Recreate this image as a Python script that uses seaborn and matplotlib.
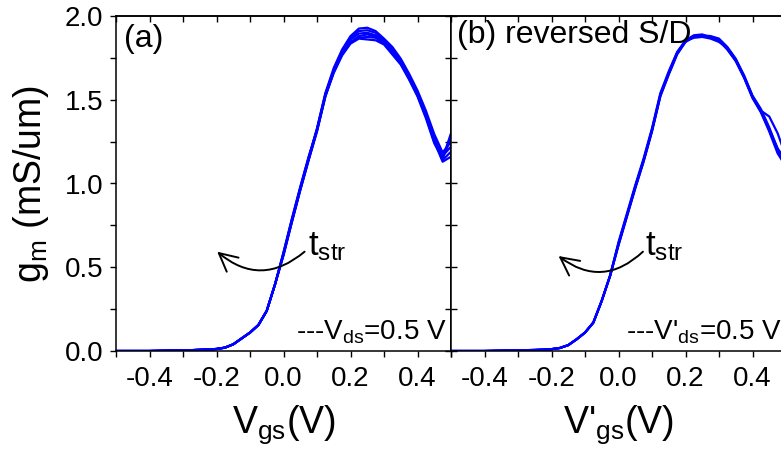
import matplotlib
matplotlib.use("Agg")
import matplotlib.pyplot as plt
from matplotlib.ticker import MultipleLocator, NullFormatter
import pandas as pd
import seaborn as sns

# Gate voltage grid (V): sub-threshold part and above-threshold part
vgs_low = [-0.500, -0.475, -0.450, -0.425, -0.400, -0.375, -0.350, -0.325, -0.300, -0.275,
           -0.250, -0.225, -0.200, -0.175, -0.150, -0.125, -0.100, -0.075, -0.050, -0.025]
vgs_high = [0.000, 0.025, 0.050, 0.075, 0.100, 0.125, 0.150, 0.175, 0.200, 0.225, 0.250,
            0.275, 0.300, 0.325, 0.350, 0.375, 0.400, 0.425, 0.450, 0.475, 0.500]

# (a) forward S/D: common sub-threshold gm and per-stress-time sweeps (mS/um)
gm_a_low = [0.000, 0.000, 0.000, 0.000, 0.000, 0.001, 0.002, 0.003, 0.004, 0.005,
            0.007, 0.009, 0.012, 0.020, 0.040, 0.075, 0.110, 0.155, 0.240, 0.400]
gm_a1 = [0.580, 0.780, 0.970, 1.150, 1.330, 1.540, 1.690, 1.800, 1.880, 1.925, 1.930,
         1.910, 1.865, 1.815, 1.745, 1.655, 1.555, 1.435, 1.295, 1.185, 1.250]
gm_a2 = [0.590, 0.790, 0.980, 1.160, 1.320, 1.530, 1.680, 1.790, 1.870, 1.910, 1.915,
         1.900, 1.855, 1.800, 1.735, 1.645, 1.545, 1.420, 1.280, 1.165, 1.220]
gm_a3 = [0.570, 0.770, 0.960, 1.140, 1.310, 1.520, 1.670, 1.780, 1.860, 1.895, 1.900,
         1.885, 1.850, 1.790, 1.730, 1.640, 1.540, 1.415, 1.270, 1.150, 1.300]
gm_a4 = [0.580, 0.775, 0.965, 1.145, 1.320, 1.525, 1.665, 1.770, 1.845, 1.880, 1.890,
         1.875, 1.840, 1.780, 1.720, 1.630, 1.530, 1.405, 1.260, 1.140, 1.190]
gm_a5 = [0.585, 0.785, 0.975, 1.155, 1.325, 1.535, 1.675, 1.775, 1.840, 1.870, 1.875,
         1.870, 1.835, 1.775, 1.715, 1.625, 1.525, 1.400, 1.250, 1.130, 1.160]
gm_a6 = [0.575, 0.770, 0.960, 1.140, 1.315, 1.520, 1.660, 1.765, 1.835, 1.865, 1.860,
         1.855, 1.830, 1.770, 1.710, 1.620, 1.520, 1.390, 1.240, 1.150, 1.270]

# (b) reversed S/D
gm_b_low = [0.000, 0.000, 0.000, 0.000, 0.000, 0.001, 0.002, 0.003, 0.004, 0.005,
            0.006, 0.008, 0.011, 0.018, 0.035, 0.070, 0.110, 0.170, 0.300, 0.450]
gm_b1 = [0.640, 0.810, 0.980, 1.140, 1.320, 1.530, 1.660, 1.780, 1.850, 1.880, 1.885,
         1.880, 1.865, 1.815, 1.745, 1.645, 1.525, 1.445, 1.335, 1.205, 1.140]
gm_b2 = [0.630, 0.800, 0.970, 1.130, 1.310, 1.520, 1.650, 1.770, 1.845, 1.875, 1.880,
         1.875, 1.855, 1.805, 1.735, 1.635, 1.515, 1.430, 1.320, 1.190, 1.120]
gm_b3 = [0.650, 0.820, 0.990, 1.150, 1.330, 1.540, 1.670, 1.785, 1.855, 1.885, 1.890,
         1.870, 1.850, 1.800, 1.730, 1.630, 1.510, 1.425, 1.310, 1.180, 1.100]
gm_b4 = [0.635, 0.805, 0.975, 1.135, 1.315, 1.525, 1.655, 1.775, 1.850, 1.870, 1.875,
         1.865, 1.845, 1.810, 1.740, 1.640, 1.520, 1.435, 1.400, 1.300, 1.160]
gm_b5 = [0.640, 0.810, 0.980, 1.140, 1.320, 1.530, 1.660, 1.780, 1.845, 1.880, 1.885,
         1.875, 1.860, 1.800, 1.735, 1.635, 1.515, 1.430, 1.325, 1.210, 1.130]

x_ticks = [-0.4, -0.2, 0.0, 0.2, 0.4]
x_tick_labels = ["-0.4", "-0.2", "0.0", "0.2", "0.4"]
y_ticks = [0.0, 0.5, 1.0, 1.5, 2.0]
y_tick_labels = ["0.0", "0.5", "1.0", "1.5", "2.0"]


def sweeps_frame(low, highs):
    rows = []
    for k, high in enumerate(highs):
        for v, g in zip(vgs_low + vgs_high, low + high):
            rows.append({"sweep": k, "vgs": v, "gm": g})
    return pd.DataFrame(rows)


df_a = sweeps_frame(gm_a_low, [gm_a1, gm_a2, gm_a3, gm_a4, gm_a5, gm_a6])
df_b = sweeps_frame(gm_b_low, [gm_b1, gm_b2, gm_b3, gm_b4, gm_b5])

sns.set_theme(style="ticks")
plt.rcParams["font.family"] = ["Liberation Sans", "DejaVu Sans"]
plt.rcParams["mathtext.fontset"] = "custom"
plt.rcParams["mathtext.rm"] = "Liberation Sans"
plt.rcParams["mathtext.it"] = "Liberation Sans"
plt.rcParams["axes.linewidth"] = 1.1
plt.rcParams["text.color"] = "black"
plt.rcParams["axes.labelcolor"] = "black"
plt.rcParams["xtick.color"] = "black"
plt.rcParams["ytick.color"] = "black"

fig = plt.figure(figsize=(7.81, 4.61), dpi=100)
W, H = 781.0, 461.0
ax_a = fig.add_axes([116 / W, 110 / H, 335 / W, 335 / H])
ax_b = fig.add_axes([451 / W, 110 / H, 335 / W, 335 / H])

BLUE = "#0000ff"
TICK_LEN = 4.0
TICK_W = 1.0
TICK_FS = 20

for ax, df in ((ax_a, df_a), (ax_b, df_b)):
    sns.lineplot(data=df, x="vgs", y="gm", units="sweep", estimator=None,
                 color=BLUE, lw=1.6, sort=False, legend=False, ax=ax)
    ax.set_xlim(-0.5, 0.5)
    ax.set_ylim(0.0, 2.0)
    ax.set_xticks(x_ticks)
    ax.set_xticklabels(x_tick_labels)
    ax.xaxis.set_minor_locator(MultipleLocator(0.1))
    ax.set_yticks(y_ticks)
    ax.yaxis.set_minor_locator(MultipleLocator(0.25))
    ax.tick_params(axis="x", which="both", direction="out", length=TICK_LEN,
                   width=TICK_W, labelsize=TICK_FS, color="black",
                   labelcolor="black", pad=7, bottom=True)
    ax.set_ylabel("")
    for s in ax.spines.values():
        s.set_visible(True)
        s.set_linewidth(1.1)
        s.set_color("black")
    # inward mirror ticks on the top edge
    top = ax.secondary_xaxis("top")
    top.set_xticks([-0.5, -0.4, -0.3, -0.2, -0.1, 0.0, 0.1, 0.2, 0.3, 0.4, 0.5])
    top.xaxis.set_major_formatter(NullFormatter())
    top.tick_params(direction="in", length=TICK_LEN, width=TICK_W, color="black")
    top.spines["top"].set_linewidth(1.1)
    top.spines["top"].set_color("black")

# left panel: outward y ticks on the left, inward on the right
ax_a.set_yticklabels(y_tick_labels)
ax_a.tick_params(axis="y", which="both", direction="out", length=TICK_LEN,
                 width=TICK_W, labelsize=TICK_FS, color="black",
                 labelcolor="black", pad=5, left=True)
right = ax_a.secondary_yaxis("right")
right.set_yticks([0.0, 0.25, 0.5, 0.75, 1.0, 1.25, 1.5, 1.75, 2.0])
right.yaxis.set_major_formatter(NullFormatter())
right.tick_params(direction="in", length=TICK_LEN, width=TICK_W, color="black")
right.spines["right"].set_color("black")

# right panel shares the y scale, inward ticks only
ax_b.tick_params(axis="y", which="both", direction="in", length=TICK_LEN,
                 width=TICK_W, color="black", left=True, labelleft=False)

LABEL_FS = 27
ax_a.set_ylabel(r"g$\mathregular{_m}$ (mS/um)", fontsize=LABEL_FS, labelpad=10)
ax_a.set_xlabel(r"V$\mathregular{_{gs}}$(V)", fontsize=LABEL_FS, labelpad=8)
ax_b.set_xlabel(r"V'$\mathregular{_{gs}}$(V)", fontsize=LABEL_FS, labelpad=8)

ax_a.text(-0.476, 1.815, "(a)", fontsize=23, ha="left", va="baseline")
ax_b.text(-0.482, 1.84, "(b) reversed S/D", fontsize=23, ha="left", va="baseline")

ax_a.text(0.073, 0.573, r"t$\mathregular{_{str}}$", fontsize=25, ha="left", va="baseline")
ax_b.text(0.078, 0.573, r"t$\mathregular{_{str}}$", fontsize=25, ha="left", va="baseline")

ax_a.text(0.487, 0.066, r"---V$\mathregular{_{ds}}$=0.5 V", fontsize=20,
          ha="right", va="baseline")
ax_b.text(0.023, 0.066, r"---V'$\mathregular{_{ds}}$=0.5 V", fontsize=20,
          ha="left", va="baseline")

arrow_style = "->,head_length=0.65,head_width=0.33"
ax_a.annotate("", xy=(-0.198, 0.593), xytext=(0.063, 0.593),
              arrowprops=dict(arrowstyle=arrow_style, connectionstyle="arc3,rad=-0.42",
                              lw=1.4, color="black", mutation_scale=20,
                              shrinkA=0, shrinkB=0))
ax_b.annotate("", xy=(-0.179, 0.567), xytext=(0.073, 0.593),
              arrowprops=dict(arrowstyle=arrow_style, connectionstyle="arc3,rad=-0.42",
                              lw=1.4, color="black", mutation_scale=20,
                              shrinkA=0, shrinkB=0))

fig.savefig("out.png", dpi=100)
